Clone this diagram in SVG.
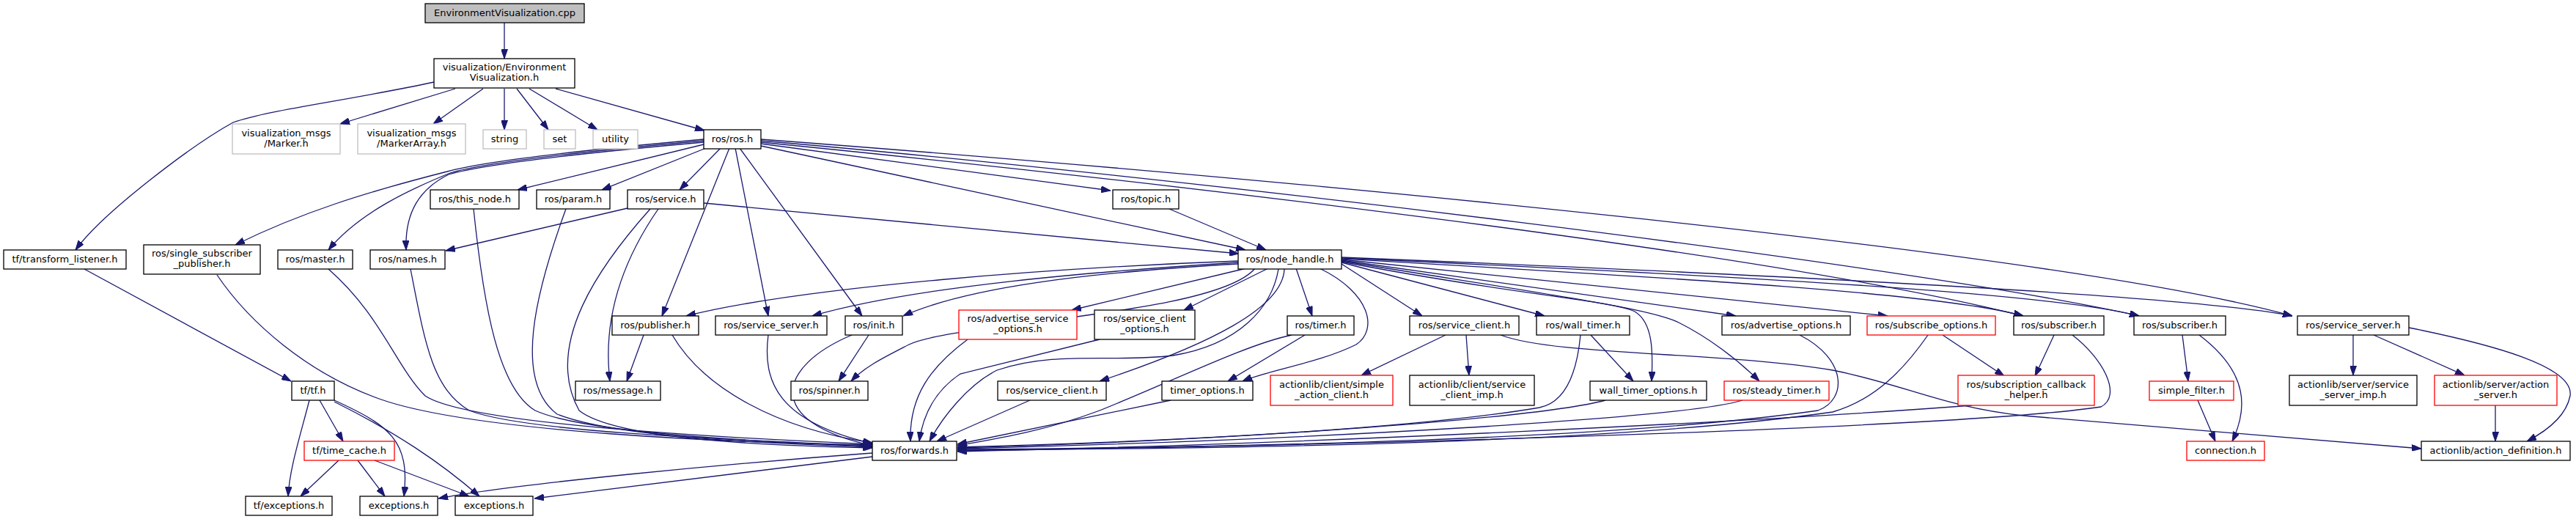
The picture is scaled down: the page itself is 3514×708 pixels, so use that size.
<svg xmlns="http://www.w3.org/2000/svg" width="3514" height="708" viewBox="0 0 3514 708">
<style>
.n rect{fill:#fff;stroke:#000;stroke-width:1.3}
.n.g rect{stroke:#bfbfbf}
.n.r rect{stroke:#ff0000}
.n.root rect{fill:#bfbfbf}
.n text{font-family:"DejaVu Sans","Liberation Sans",sans-serif;font-size:13px;fill:#000;text-anchor:middle}
#edges path{fill:none;stroke:#191970;stroke-width:1.3;marker-end:url(#a)}
</style>
<defs>
<marker id="a" viewBox="0 0 13 9" refX="13" refY="4.5" markerWidth="13" markerHeight="9" markerUnits="userSpaceOnUse" orient="auto"><path d="M0,0 L13,4.5 L0,9 z" fill="#191970" stroke="#191970" stroke-width="1"/></marker>
</defs>
<rect width="3514" height="708" fill="#fff"/>
<g id="edges">
<path d="M688,31 L688,80"/>
<path d="M592,112 C470,138 365,150 318,167 C262,198 140,290 103,341"/>
<path d="M621,121 L464,169"/>
<path d="M659,121 L591,169"/>
<path d="M688,121 L688,177"/>
<path d="M705,121 L748,177"/>
<path d="M722,121 L815,177"/>
<path d="M758,121 L961,178"/>
<path d="M960,197 L706,259"/>
<path d="M963,202 L821,259"/>
<path d="M983,202 L927,259"/>
<path d="M960,190 C780,206 660,220 610,234 C500,262 410,290 321,334"/>
<path d="M960,192 C780,208 660,222 614,236 C560,258 490,290 448,341"/>
<path d="M960,194 C780,210 660,224 612,238 C572,258 552,290 554,341"/>
<path d="M995,202 L903,431"/>
<path d="M1003,202 L1048,431"/>
<path d="M1009,202 L1176,431"/>
<path d="M1038,199 L1699,341"/>
<path d="M1038,196 L1515,260"/>
<path d="M1038,194 C1500,240 2400,340 2760,431"/>
<path d="M1038,192 C1600,240 2600,360 2918,431"/>
<path d="M1038,190 C1700,240 2800,340 3127,431"/>
<path d="M960,277 L1690,346"/>
<path d="M856,284 L608,342"/>
<path d="M887,285 C820,360 740,470 790,560 C840,600 1050,608 1190,611"/>
<path d="M898,285 C860,340 820,420 832,520"/>
<path d="M1595,285 L1727,341"/>
<path d="M646,285 C660,420 680,530 730,560 C800,592 1050,603 1190,609"/>
<path d="M772,285 C730,400 700,520 760,565 C840,597 1050,605 1190,610"/>
<path d="M296,375 C340,440 420,510 520,545 C650,590 1000,604 1190,607"/>
<path d="M448,367 C520,430 540,500 580,540 C640,580 1000,598 1190,606"/>
<path d="M560,367 C580,470 590,530 640,560 C720,590 1000,600 1190,608"/>
<path d="M115,367 L397,520"/>
<path d="M878,457 L855,520"/>
<path d="M917,457 C960,530 1060,585 1190,604"/>
<path d="M1048,457 C1040,520 1060,575 1190,605"/>
<path d="M1162,457 C1060,500 1040,575 1190,608"/>
<path d="M1185,457 L1144,520"/>
<path d="M1689,356 C1450,365 1100,390 936,431"/>
<path d="M1689,358 C1500,370 1250,390 1108,431"/>
<path d="M1689,360 C1480,372 1320,392 1232,431"/>
<path d="M1700,366 L1462,423"/>
<path d="M1730,366 L1615,423"/>
<path d="M1768,366 L1790,431"/>
<path d="M1712,366 C1660,430 1300,440 1240,470 C1205,488 1180,500 1161,520"/>
<path d="M1744,367 C1735,420 1690,470 1600,485 C1520,495 1440,478 1360,505 C1320,525 1285,570 1268,602"/>
<path d="M1752,367 C1750,420 1650,470 1500,520"/>
<path d="M1800,366 C1870,400 1880,450 1850,470 C1800,495 1730,505 1695,520"/>
<path d="M1830,360 L1940,431"/>
<path d="M1830,358 L2107,431"/>
<path d="M1830,357 C2050,400 2200,410 2230,425 C2255,440 2255,480 2253,520"/>
<path d="M1830,356 C2100,400 2250,420 2290,440 C2330,460 2370,490 2400,520"/>
<path d="M1830,355 L2368,431"/>
<path d="M1830,354 L2575,431"/>
<path d="M1830,353 C2300,380 2650,400 2760,431"/>
<path d="M1830,352 C2400,378 2800,400 2918,431"/>
<path d="M1830,351 C2500,378 3000,405 3127,431"/>
<path d="M1320,463 C1270,500 1240,540 1242,602"/>
<path d="M1500,463 L1310,510 C1280,530 1260,560 1254,602"/>
<path d="M1405,546 L1278,602"/>
<path d="M1597,546 L1306,606"/>
<path d="M1762,457 C1700,470 1600,520 1500,560 C1420,590 1350,600 1306,608"/>
<path d="M1780,457 L1675,520"/>
<path d="M2156,457 C2150,520 2130,550 2100,556 C1900,590 1500,605 1306,610"/>
<path d="M2170,457 L2228,520"/>
<path d="M2190,546 C2100,570 1700,600 1306,611"/>
<path d="M2377,546 C2300,570 1800,600 1306,612"/>
<path d="M2455,457 C2520,490 2520,545 2480,560 C2200,600 1700,610 1306,613"/>
<path d="M2630,457 C2600,500 2560,545 2500,562 C2200,605 1700,612 1306,614"/>
<path d="M2650,457 L2734,513"/>
<path d="M2802,457 L2776,513"/>
<path d="M2827,457 C2870,490 2895,540 2866,555 C2700,580 2000,605 1306,615"/>
<path d="M2690,553 C2400,575 1800,605 1306,616"/>
<path d="M2977,457 L2985,520"/>
<path d="M3000,457 C3070,510 3065,560 3045,602"/>
<path d="M2998,546 L3022,602"/>
<path d="M3210,457 L3210,512"/>
<path d="M3238,457 L3362,512"/>
<path d="M3286,447 C3400,470 3512,500 3506,540 C3500,570 3470,590 3447,602"/>
<path d="M3404,553 L3404,602"/>
<path d="M1972,457 L1857,512"/>
<path d="M2000,457 L2004,512"/>
<path d="M2047,457 C2120,485 2350,480 2500,505 C2600,525 2650,555 2760,567 L3303,612"/>
<path d="M422,546 C408,600 395,640 393,677"/>
<path d="M436,546 L468,602"/>
<path d="M456,546 C530,580 560,600 551,677"/>
<path d="M456,548 C540,590 600,630 654,677"/>
<path d="M462,628 L410,677"/>
<path d="M488,628 L525,677"/>
<path d="M511,628 L640,677"/>
<path d="M1190,618 C1000,632 700,660 598,680"/>
<path d="M1190,623 L729,680"/>
</g>
<g id="n0" class="n root"><rect x="580" y="5" width="217" height="26"/><text x="688.5" y="22">EnvironmentVisualization.cpp</text></g>
<g id="n1" class="n"><rect x="592" y="80" width="192" height="40"/><text x="688" y="96">visualization/Environment</text><text x="688" y="110">Visualization.h</text></g>
<g id="n2" class="n g"><rect x="317" y="169" width="147" height="41"/><text x="390.5" y="186">visualization_msgs</text><text x="390.5" y="200">/Marker.h</text></g>
<g id="n3" class="n g"><rect x="488" y="169" width="147" height="41"/><text x="561.5" y="186">visualization_msgs</text><text x="561.5" y="200">/MarkerArray.h</text></g>
<g id="n4" class="n g"><rect x="659" y="177" width="59" height="26"/><text x="688.5" y="194">string</text></g>
<g id="n5" class="n g"><rect x="742" y="177" width="43" height="26"/><text x="763.5" y="194">set</text></g>
<g id="n6" class="n g"><rect x="809" y="177" width="61" height="26"/><text x="839.5" y="194">utility</text></g>
<g id="n7" class="n"><rect x="960" y="177" width="78" height="26"/><text x="999" y="194">ros/ros.h</text></g>
<g id="n8" class="n"><rect x="5" y="341" width="167" height="26"/><text x="88.5" y="358">tf/transform_listener.h</text></g>
<g id="n9" class="n"><rect x="196" y="334" width="159" height="40"/><text x="275.5" y="350">ros/single_subscriber</text><text x="275.5" y="364">_publisher.h</text></g>
<g id="n10" class="n"><rect x="379" y="341" width="102" height="26"/><text x="430" y="358">ros/master.h</text></g>
<g id="n11" class="n"><rect x="505" y="341" width="102" height="26"/><text x="556" y="358">ros/names.h</text></g>
<g id="n12" class="n"><rect x="587" y="259" width="121" height="26"/><text x="647.5" y="276">ros/this_node.h</text></g>
<g id="n13" class="n"><rect x="732" y="259" width="100" height="26"/><text x="782" y="276">ros/param.h</text></g>
<g id="n14" class="n"><rect x="856" y="259" width="104" height="26"/><text x="908" y="276">ros/service.h</text></g>
<g id="n15" class="n"><rect x="1518" y="259" width="90" height="26"/><text x="1563" y="276">ros/topic.h</text></g>
<g id="n16" class="n"><rect x="1689" y="341" width="141" height="26"/><text x="1759.5" y="358">ros/node_handle.h</text></g>
<g id="n17" class="n"><rect x="835" y="431" width="118" height="26"/><text x="894" y="448">ros/publisher.h</text></g>
<g id="n18" class="n"><rect x="976" y="431" width="152" height="26"/><text x="1052" y="448">ros/service_server.h</text></g>
<g id="n19" class="n"><rect x="1153" y="431" width="78" height="26"/><text x="1192" y="448">ros/init.h</text></g>
<g id="n20" class="n r"><rect x="1308" y="423" width="161" height="40"/><text x="1388.5" y="439">ros/advertise_service</text><text x="1388.5" y="453">_options.h</text></g>
<g id="n21" class="n"><rect x="1493" y="423" width="137" height="40"/><text x="1561.5" y="439">ros/service_client</text><text x="1561.5" y="453">_options.h</text></g>
<g id="n22" class="n"><rect x="1756" y="431" width="91" height="26"/><text x="1801.5" y="448">ros/timer.h</text></g>
<g id="n23" class="n"><rect x="1923" y="431" width="149" height="26"/><text x="1997.5" y="448">ros/service_client.h</text></g>
<g id="n24" class="n"><rect x="2096" y="431" width="127" height="26"/><text x="2159.5" y="448">ros/wall_timer.h</text></g>
<g id="n25" class="n"><rect x="2349" y="431" width="175" height="26"/><text x="2436.5" y="448">ros/advertise_options.h</text></g>
<g id="n26" class="n r"><rect x="2547" y="431" width="175" height="26"/><text x="2634.5" y="448">ros/subscribe_options.h</text></g>
<g id="n27" class="n"><rect x="2747" y="431" width="123" height="26"/><text x="2808.5" y="448">ros/subscriber.h</text></g>
<g id="n28" class="n"><rect x="2911" y="431" width="125" height="26"/><text x="2973.5" y="448">ros/subscriber.h</text></g>
<g id="n29" class="n"><rect x="3134" y="431" width="152" height="26"/><text x="3210" y="448">ros/service_server.h</text></g>
<g id="n30" class="n"><rect x="785" y="520" width="116" height="26"/><text x="843" y="537">ros/message.h</text></g>
<g id="n31" class="n"><rect x="398" y="520" width="58" height="26"/><text x="427" y="537">tf/tf.h</text></g>
<g id="n32" class="n"><rect x="1079" y="520" width="105" height="26"/><text x="1131.5" y="537">ros/spinner.h</text></g>
<g id="n33" class="n"><rect x="1361" y="520" width="148" height="26"/><text x="1435" y="537">ros/service_client.h</text></g>
<g id="n34" class="n"><rect x="1585" y="520" width="124" height="26"/><text x="1647" y="537">timer_options.h</text></g>
<g id="n35" class="n r"><rect x="1733" y="512" width="167" height="41"/><text x="1816.5" y="529">actionlib/client/simple</text><text x="1816.5" y="543">_action_client.h</text></g>
<g id="n36" class="n"><rect x="1923" y="512" width="170" height="41"/><text x="2008" y="529">actionlib/client/service</text><text x="2008" y="543">_client_imp.h</text></g>
<g id="n37" class="n"><rect x="2169" y="520" width="159" height="26"/><text x="2248.5" y="537">wall_timer_options.h</text></g>
<g id="n38" class="n r"><rect x="2352" y="520" width="143" height="26"/><text x="2423.5" y="537">ros/steady_timer.h</text></g>
<g id="n39" class="n r"><rect x="2671" y="512" width="186" height="41"/><text x="2764" y="529">ros/subscription_callback</text><text x="2764" y="543">_helper.h</text></g>
<g id="n40" class="n r"><rect x="2932" y="520" width="115" height="26"/><text x="2989.5" y="537">simple_filter.h</text></g>
<g id="n41" class="n"><rect x="3123" y="512" width="174" height="41"/><text x="3210" y="529">actionlib/server/service</text><text x="3210" y="543">_server_imp.h</text></g>
<g id="n42" class="n r"><rect x="3321" y="512" width="167" height="41"/><text x="3404.5" y="529">actionlib/server/action</text><text x="3404.5" y="543">_server.h</text></g>
<g id="n43" class="n r"><rect x="415" y="602" width="123" height="26"/><text x="476.5" y="619">tf/time_cache.h</text></g>
<g id="n44" class="n"><rect x="1190" y="602" width="115" height="26"/><text x="1247.5" y="619">ros/forwards.h</text></g>
<g id="n45" class="n r"><rect x="2983" y="602" width="106" height="26"/><text x="3036" y="619">connection.h</text></g>
<g id="n46" class="n"><rect x="3303" y="602" width="203" height="26"/><text x="3404.5" y="619">actionlib/action_definition.h</text></g>
<g id="n47" class="n"><rect x="335" y="677" width="118" height="26"/><text x="394" y="694">tf/exceptions.h</text></g>
<g id="n48" class="n"><rect x="491" y="677" width="106" height="26"/><text x="544" y="694">exceptions.h</text></g>
<g id="n49" class="n"><rect x="621" y="677" width="106" height="26"/><text x="674" y="694">exceptions.h</text></g>
</svg>
